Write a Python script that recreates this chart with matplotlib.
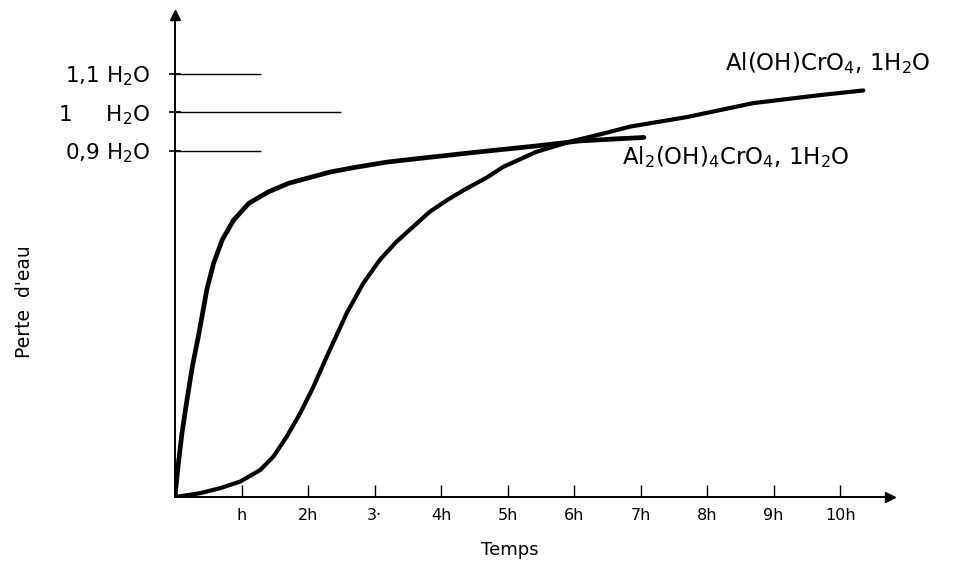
import matplotlib
import matplotlib.pyplot as plt

matplotlib.use("Agg")

# temps (h) / perte d'eau (en H2O)
t_rapide = [0, 0.045, 0.105, 0.18, 0.26, 0.36, 0.48, 0.58, 0.71, 0.88, 1.11, 1.41,
            1.71, 1.88, 2.33, 2.7, 3.19, 3.7, 4.44, 5.44, 6.09, 6.84, 7.05]
y_rapide = [0, 0.079, 0.166, 0.252, 0.338, 0.425, 0.54, 0.607, 0.668, 0.719, 0.763,
            0.793, 0.815, 0.823, 0.844, 0.856, 0.87, 0.88, 0.894, 0.912, 0.925, 0.932,
            0.934]

t_lent = [0, 0.38, 0.68, 0.98, 1.28, 1.48, 1.68, 1.88, 2.08, 2.28, 2.58, 2.83, 3.08,
          3.33, 3.58, 3.83, 4.09, 4.34, 4.69, 4.94, 5.44, 5.94, 6.44, 6.84, 7.7, 8.69,
          9.7, 10.35]
y_lent = [0, 0.01, 0.023, 0.04, 0.07, 0.105, 0.157, 0.217, 0.286, 0.364, 0.477, 0.555,
          0.616, 0.663, 0.702, 0.741, 0.771, 0.797, 0.83, 0.858, 0.897, 0.923, 0.944,
          0.962, 0.987, 1.023, 1.044, 1.056]

niveaux = [1.1, 1.0, 0.9]
niveaux_labels = [r"1,1 H$_2$O", r"1     H$_2$O", r"0,9 H$_2$O"]
niveaux_long = [1.3, 2.5, 1.3]

heures = [1, 2, 3, 4, 5, 6, 7, 8, 9, 10]
heures_labels = ["h", "2h", "3·", "4h", "5h", "6h", "7h", "8h", "9h", "10h"]

fig = plt.figure(figsize=(9.68, 5.66), dpi=100)
ax = fig.add_axes([175 / 968, 69 / 566, 715 / 968, 482 / 566])
ax.set_xlim(0, 10.75)
ax.set_ylim(0, 1.252)

for s in ["top", "right"]:
    ax.spines[s].set_visible(False)
for s in ["left", "bottom"]:
    ax.spines[s].set_linewidth(1.4)
# fleches des axes
ax.plot(1, 0, ">k", ms=7, transform=ax.get_yaxis_transform(), clip_on=False)
ax.plot(0, 1, "^k", ms=7, transform=ax.get_xaxis_transform(), clip_on=False)

ax.plot(t_rapide, y_rapide, color="black", lw=3.4, solid_capstyle="round",
        solid_joinstyle="round")
ax.plot(t_lent, y_lent, color="black", lw=3.0, solid_capstyle="round",
        solid_joinstyle="round")
# petite pointe au bout de la courbe rapide
ax.annotate("", xy=(t_rapide[-1] + 0.05, y_rapide[-1]), xytext=(6.5, y_rapide[-1] - 0.002),
            arrowprops=dict(arrowstyle="-", color="black", lw=1.8))

for lv, ln in zip(niveaux, niveaux_long):
    ax.hlines(lv, 0, ln, color="black", lw=1.0)

ax.set_xticks(heures)
ax.set_xticklabels(heures_labels, fontsize=11.5)
ax.tick_params(axis="x", direction="in", length=9, width=1, pad=8)
ax.set_yticks(niveaux)
ax.set_yticklabels(niveaux_labels, fontsize=15.5)
ax.tick_params(axis="y", direction="inout", length=8, width=1.2, pad=14)

ax.text(8.27, 1.127, r"Al(OH)CrO$_4$, 1H$_2$O", fontsize=16.5, ha="left", va="center")
ax.text(6.72, 0.883, r"Al$_2$(OH)$_4$CrO$_4$, 1H$_2$O", fontsize=16.5, ha="left",
        va="center")

fig.text(510 / 968, 1 - 550 / 566, "Temps", fontsize=13, ha="center", va="center")
fig.text(25 / 968, 1 - 302 / 566, "Perte  d'eau", fontsize=13.5, ha="center", va="center",
         rotation=90)

fig.savefig("out.png", dpi=100)
